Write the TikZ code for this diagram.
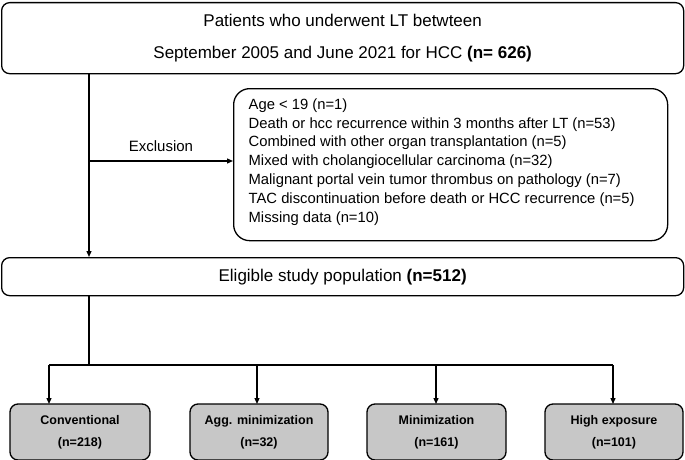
\documentclass[tikz,border=0pt]{standalone}
\usepackage{fontspec}
\setmainfont{Liberation Sans}
\usetikzlibrary{arrows.meta}
\begin{document}
\begin{tikzpicture}[x=1pt,y=-1pt,
  line width=1.3pt,
  arr/.style={-{Triangle[length=6pt,width=5pt]}},
  bigbox/.style={draw,rounded corners=8pt,inner sep=0pt},
  grpbox/.style={draw,rounded corners=8pt,fill=black!22,minimum width=139pt,minimum height=56pt,inner sep=0pt,align=center,font=\fontsize{12.5}{22}\selectfont\bfseries},
]
\useasboundingbox (0,0) rectangle (685,460);
% top box
\node[bigbox,minimum width=682pt,minimum height=71pt,anchor=north west,align=center,font=\fontsize{17}{32}\selectfont] (top) at (1,2) {Patients who underwent LT betwteen\\September 2005 and June 2021 for HCC \textbf{(n= 626)}};
% exclusion box
\node[draw,rounded corners=16pt,minimum width=434pt,minimum height=152pt,anchor=north west] (exc) at (233,88) {};
\node[anchor=north west,align=left,font=\fontsize{14.8}{18.8}\selectfont,inner sep=0pt] (exctext) at (248,98) {Age < 19 (n=1)\\Death or hcc recurrence within 3 months after LT (n=53)\\Combined with other organ transplantation (n=5)\\Mixed with cholangiocellular carcinoma (n=32)\\Malignant portal vein tumor thrombus on pathology (n=7)\\TAC discontinuation before death or HCC recurrence (n=5)\\Missing data (n=10)};
% eligible
\node[bigbox,minimum width=682pt,minimum height=38pt,anchor=north west,font=\fontsize{17}{20}\selectfont] (elig) at (1,257) {Eligible study population \textbf{(n=512)}};
% groups
\node[grpbox,minimum width=140pt] (g1) at (80,432) {Conventional\\(n=218)};
\node[grpbox,minimum width=138pt] (g2) at (259,432) {Agg. minimization\\(n=32)};
\node[grpbox,minimum width=139pt] (g3) at (436.5,432) {Minimization\\(n=161)};
\node[grpbox,minimum width=138pt] (g4) at (614,432) {High exposure\\(n=101)};
% connectors
\coordinate (s1) at (89,161);
\draw[arr] (89,73) coordinate (t0) -- (89,257);
\draw[arr] (s1) -- (exc.west |- s1) node[midway,above=5pt,font=\fontsize{15}{17}\selectfont] {Exclusion};
\coordinate (hb) at (89,365);
\draw (89,295) -- (hb);
\draw (49,365) -- (613,365);
\draw[arr] (49,365) -- (49,404);
\draw[arr] (257,365) -- (257,404);
\draw[arr] (436,365) -- (436,404);
\draw[arr] (613,365) -- (613,404);
\end{tikzpicture}
\end{document}
